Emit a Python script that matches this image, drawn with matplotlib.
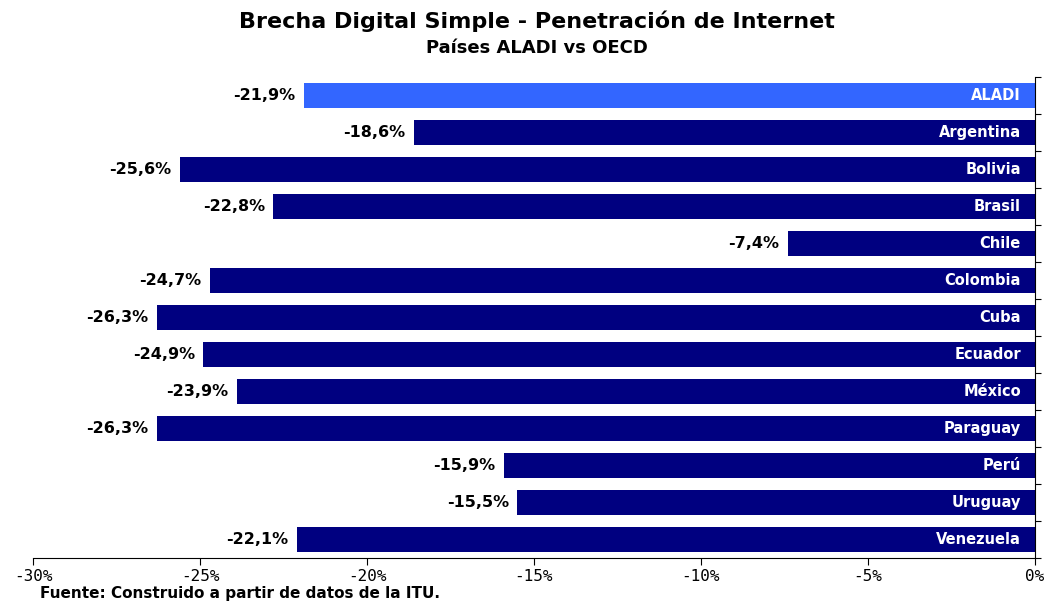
import matplotlib.pyplot as plt
import numpy as np

paises = ['ALADI', 'Argentina', 'Bolivia', 'Brasil', 'Chile', 'Colombia', 'Cuba',
          'Ecuador', 'México', 'Paraguay', 'Perú', 'Uruguay', 'Venezuela']
brecha = [-21.9, -18.6, -25.6, -22.8, -7.4, -24.7, -26.3,
          -24.9, -23.9, -26.3, -15.9, -15.5, -22.1]
ticks = [-30, -25, -20, -15, -10, -5, 0]

fig = plt.figure(figsize=(10.52, 6.03), dpi=100)
ax = fig.add_axes([0.0314, 0.0746, 0.9524, 0.7977])

y = np.arange(len(paises))
colores = ['#3366ff'] + ['#000080'] * (len(paises) - 1)
ax.barh(y, brecha, height=0.67, color=colores)

for yi, v, nombre in zip(y, brecha, paises):
    ax.text(v - 0.25, yi, '{:.1f}%'.format(v).replace('.', ','), ha='right', va='center',
            fontsize=11.5, fontweight='bold', family='DejaVu Sans')
    ax.text(-0.42, yi, nombre, ha='right', va='center', color='white',
            fontsize=10.5, fontweight='bold', family='DejaVu Sans')

ax.set_xlim(-30, 0)
ax.set_ylim(len(paises) - 0.5, -0.5)
ax.set_xticks(ticks)
ax.set_xticklabels(['{}%'.format(t) for t in ticks], family='DejaVu Sans Mono', fontsize=11.5)
ax.set_yticks(np.arange(len(paises) + 1) - 0.5)
ax.set_yticklabels([])
ax.yaxis.tick_right()
ax.tick_params(axis='y', length=4, direction='out')
ax.tick_params(axis='x', length=5, direction='out', pad=3)
ax.spines['top'].set_visible(False)
ax.spines['left'].set_visible(False)

fig.text(0.51, 0.965, 'Brecha Digital Simple - Penetración de Internet', ha='center', va='center',
         fontsize=16, fontweight='bold', family='DejaVu Sans')
fig.text(0.51, 0.92, 'Países ALADI vs OECD', ha='center', va='center',
         fontsize=13, fontweight='bold', family='DejaVu Sans')
fig.text(0.038, 0.015, 'Fuente: Construido a partir de datos de la ITU.', ha='left', va='center',
         fontsize=11, fontweight='bold', family='DejaVu Sans')

plt.savefig('out.png', dpi=100)
